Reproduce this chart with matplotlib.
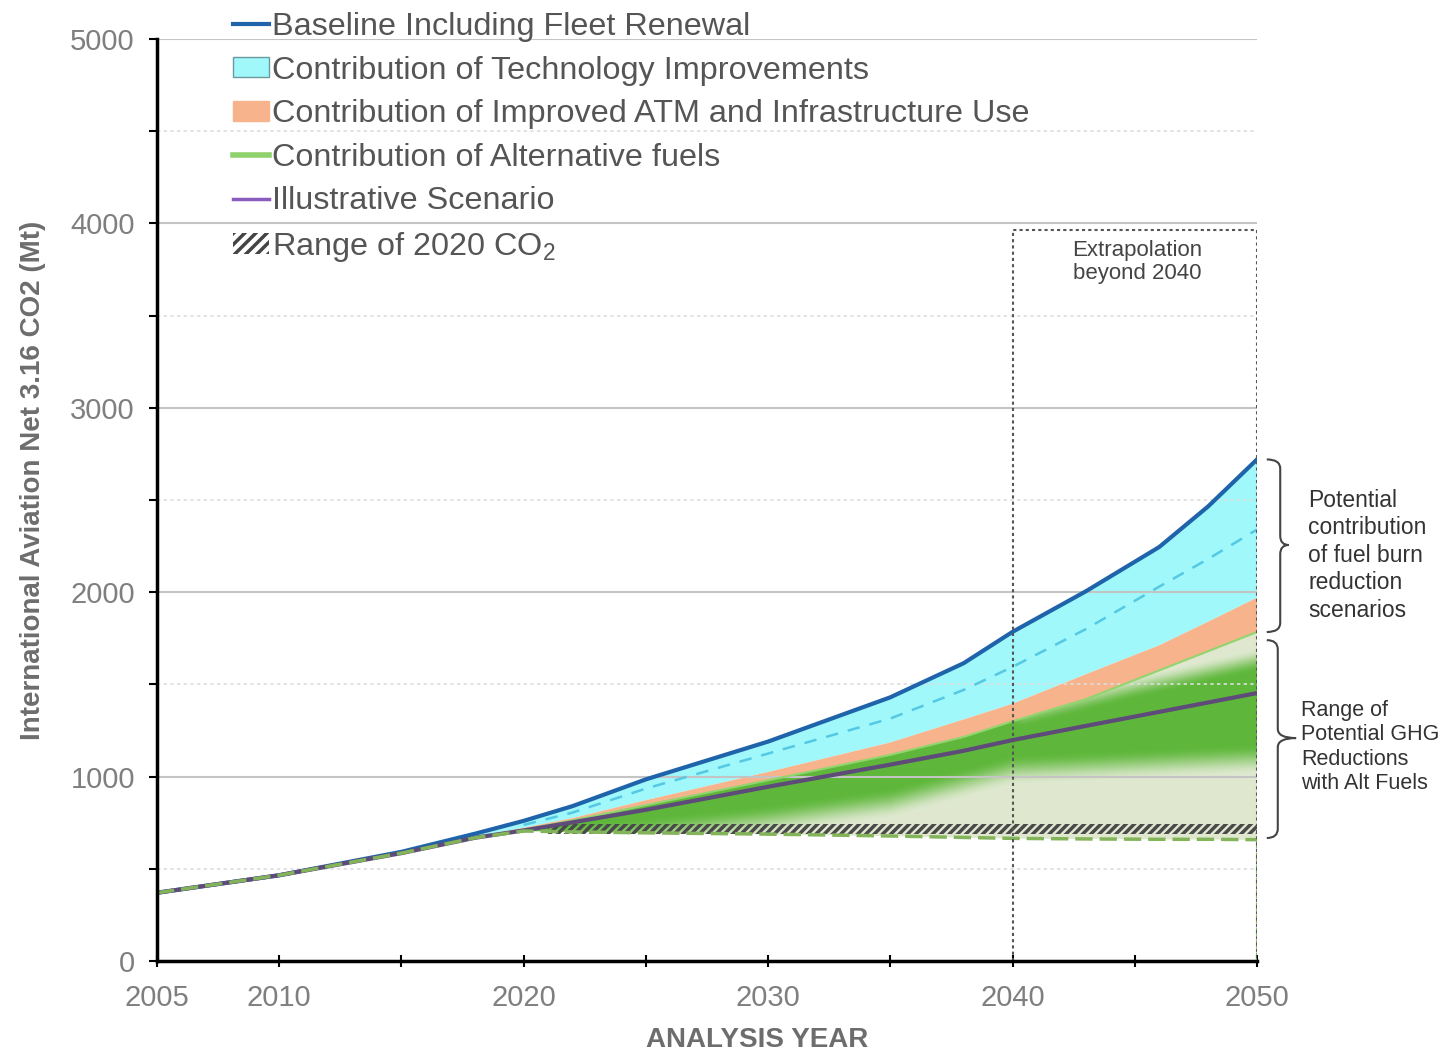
import numpy as np
import matplotlib
matplotlib.use('Agg')
import matplotlib.pyplot as plt
from matplotlib.lines import Line2D
from matplotlib.patches import Patch, PathPatch
from matplotlib.path import Path

plt.rcParams['font.family'] = ['Liberation Sans', 'DejaVu Sans']
plt.rcParams['mathtext.fontset'] = 'custom'
plt.rcParams['mathtext.rm'] = 'Liberation Sans'
plt.rcParams['hatch.linewidth'] = 2.5

# data (Mt CO2)
years = [2005, 2010, 2015, 2018, 2020, 2022, 2025, 2030, 2035, 2038, 2040, 2043, 2046, 2048, 2050]
baseline = [370, 465, 592, 690, 760, 840, 985, 1190, 1430, 1615, 1785, 2005, 2245, 2465, 2720]
tech_dashed = [370, 465, 590, 682, 738, 805, 935, 1125, 1315, 1470, 1595, 1800, 2030, 2180, 2340]
atm_top = [370, 465, 588, 675, 722, 775, 872, 1025, 1185, 1310, 1395, 1555, 1712, 1840, 1970]
alt_top = [370, 465, 587, 670, 712, 762, 845, 980, 1118, 1215, 1300, 1420, 1576, 1680, 1784]
scenario = [370, 465, 585, 668, 708, 752, 820, 945, 1065, 1140, 1198, 1275, 1351, 1402, 1453]
alt_low = [370, 465, 585, 668, 705, 700, 695, 688, 678, 670, 665, 662, 660, 660, 658]

co2_2020_years = [2021, 2050]
co2_2020_low = 690
co2_2020_high = 745

legend_labels = ['Baseline Including Fleet Renewal',
                 'Contribution of Technology Improvements',
                 'Contribution of Improved ATM and Infrastructure Use',
                 'Contribution of Alternative fuels',
                 'Illustrative Scenario',
                 'Range of 2020 CO$_2$']

blue = '#1f64aa'
cyan = '#a0f8fa'
orange = '#f7b48c'
purple = '#5f4b7a'
dark_green = np.array([0.37, 0.72, 0.23])
light_green = np.array([0.875, 0.913, 0.815])

fig = plt.figure(figsize=(14.48, 10.55), dpi=100)
ax = fig.add_axes([157/1448, 1 - 961/1055, 1100/1448, 922/1055])

# stacked areas
ax.fill_between(years, atm_top, baseline, facecolor=cyan, lw=0, zorder=1)
ax.fill_between(years, alt_top, atm_top, facecolor=orange, lw=0, zorder=1)
green = ax.fill_between(years, alt_low, alt_top, facecolor=tuple(light_green), lw=0, zorder=1)

# green shading inside the alt fuel range
lo_x, lo_y = [2020, 2025, 2030, 2035, 2040, 2050], [640, 690, 760, 850, 1030, 1090]
hi_x, hi_y = [2020, 2040.5, 2045, 2050], [1600, 1330, 1480, 1630]
gx = np.linspace(2019, 2050, 400)
gy = np.linspace(600, 1850, 500)
GX, GY = np.meshgrid(gx, gy)
lo = np.interp(GX, lo_x, lo_y)
hi = np.interp(GX, hi_x, hi_y)


def smooth(t):
    t = np.clip(t, 0, 1)
    return t * t * (3 - 2 * t)


w = smooth((GY - lo) / 170 + 0.5) * smooth((hi - GY) / 130 + 0.5)
rgb = light_green * (1 - w[..., None]) + dark_green * w[..., None]
im = ax.imshow(rgb, extent=[2019, 2050, 600, 1850], origin='lower', aspect='auto',
               interpolation='bilinear', zorder=1.2)
im.set_clip_path(green.get_paths()[0], ax.transData)

# range of 2020 CO2
ax.fill_between(co2_2020_years, co2_2020_low, co2_2020_high, facecolor='none',
                edgecolor='#4a4a4a', hatch='////', lw=0, zorder=2.7)

# lines
ax.plot(years, baseline, color=blue, lw=3, zorder=3)
ax.plot(years[4:], tech_dashed[4:], color='#55c8e4', lw=1.8, ls=(0, (5, 4)), zorder=3)
ax.plot(years, alt_top, color='#92d46e', lw=1.5, zorder=3)
ax.plot(years, scenario, color=purple, lw=3, zorder=3.1)
ax.plot(years, alt_low, color='#84b45a', lw=2.5, ls=(0, (5, 2)), zorder=3.2)
ax.plot([years[-1], years[-1]], [alt_low[-1], 0], color='#84b45a', lw=1.5,
        ls=(0, (4, 2)), zorder=3.2)

# extrapolation box
ax.plot([2040, 2040, 2050, 2050], [0, 3965, 3965, 0], color='#555555', lw=1.5,
        ls=(0, (1.5, 1.5)), zorder=3.5)
ax.text(2045.1, 3790, 'Extrapolation\nbeyond 2040', ha='center', va='center',
        fontsize=16, color='#444444', linespacing=1.15)


def brace(x0, xv, xt, yt, yb, ym, r):
    verts = [(x0, yt), (xv, yt), (xv, yt - r),
             (xv, ym + r), (xv, ym), (xt, ym),
             (xv, ym), (xv, ym - r),
             (xv, yb + r), (xv, yb), (x0, yb)]
    codes = [Path.MOVETO, Path.CURVE3, Path.CURVE3,
             Path.LINETO, Path.CURVE3, Path.CURVE3,
             Path.CURVE3, Path.CURVE3,
             Path.LINETO, Path.CURVE3, Path.CURVE3]
    p = PathPatch(Path(verts, codes), facecolor='none', edgecolor='#444444', lw=1.5,
                  clip_on=False, zorder=4)
    ax.add_patch(p)


brace(2050.4, 2050.95, 2051.3, baseline[-1], alt_top[-1], 2256, 50)
brace(2050.4, 2050.85, 2051.6, 1740, 667, 1209, 50)
ax.text(2052.1, 2200, 'Potential\ncontribution\nof fuel burn\nreduction\nscenarios',
        ha='left', va='center', fontsize=16.5, color='#333333', linespacing=1.25)
ax.text(2051.8, 1160, 'Range of\nPotential GHG\nReductions\nwith Alt Fuels',
        ha='left', va='center', fontsize=15.5, color='#333333', linespacing=1.2)

# axes
ax.set_xlim(2005, 2050)
ax.set_ylim(0, 5000)
ax.set_xticks([2005, 2010, 2020, 2030, 2040, 2050])
ax.set_xticks([2015, 2025, 2035, 2045], minor=True)
ax.set_yticks(range(0, 5001, 1000))
ax.set_yticks(range(500, 5000, 1000), minor=True)
ax.set_axisbelow(False)
ax.grid(which='major', axis='y', color='#c4c4c4', lw=1.5)
ax.grid(which='minor', axis='y', color='#dedede', lw=1.2, ls=(0, (2, 2)))
for s in ['top', 'right']:
    ax.spines[s].set_visible(False)
for s in ['left', 'bottom']:
    ax.spines[s].set_linewidth(2.5)
    ax.spines[s].set_zorder(4)
ax.tick_params(axis='y', which='both', direction='out', length=6, width=1.5,
               labelsize=21, labelcolor='#7f7f7f', pad=10)
ax.tick_params(axis='x', which='both', direction='inout', length=9, width=1.5,
               labelsize=21, labelcolor='#7f7f7f', pad=12)

fig.text(33/1448, 1 - 480/1055, 'International Aviation Net 3.16 CO2 (Mt)', rotation=90,
         ha='center', va='center', fontsize=20, fontweight='bold', color='#6d6d6d')
fig.text(757/1448, 1 - 1040/1055, 'ANALYSIS YEAR', ha='center', va='center',
         fontsize=20, fontweight='bold', color='#6d6d6d')

handles = [Line2D([], [], color=blue, lw=3),
           Patch(facecolor=cyan, edgecolor='#6a9aa0', lw=1),
           Patch(facecolor=orange, edgecolor=orange),
           Line2D([], [], color='#8fd16a', lw=4),
           Line2D([], [], color='#8a5cc0', lw=2.5),
           Patch(facecolor='white', edgecolor='#444444', hatch='///', lw=0)]
fig.legend(handles, legend_labels, loc='upper left', bbox_to_anchor=(233/1448, 1 - 12/1055),
           frameon=False, fontsize=23.3, handlelength=1.1, handleheight=0.6,
           handletextpad=0.1, labelspacing=0.42, borderpad=0, borderaxespad=0,
           labelcolor='#555555')

fig.savefig('out.png', dpi=100)
